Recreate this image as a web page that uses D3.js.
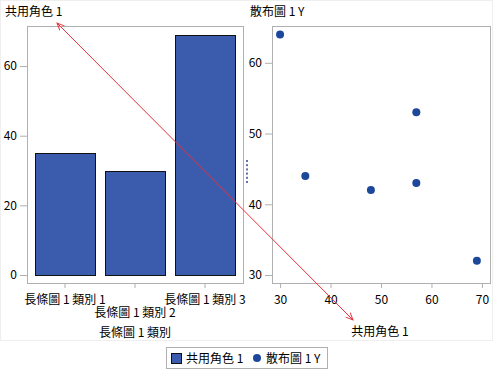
<!DOCTYPE html>
<html>
<head>
<meta charset="utf-8">
<script src="https://cdn.jsdelivr.net/npm/d3@7"></script>
<style>
  body { margin: 0; background: #fff; }
  text { font-family: "Noto Sans CJK TC", "DejaVu Sans", sans-serif; font-size: 12px; fill: #000; }
</style>
</head>
<body>
<div id="chart"></div>
<script>
// bar panel data
const barCategories = ["長條圖 1 類別 1", "長條圖 1 類別 2", "長條圖 1 類別 3"];
const barValues = [35, 30, 69];
const barTicks = [0, 20, 40, 60];

// scatter panel data
const scatterX = [30, 35, 48, 57, 57, 69];
const scatterY = [64, 44, 42, 53, 43, 32];
const scatterXTicks = [30, 40, 50, 60, 70];
const scatterYTicks = [30, 40, 50, 60];

const legendLabels = ["共用角色 1", "散布圖 1 Y"];

const barColor = "#3b5bad";
const dotColor = "#1c479b";
const frameColor = "#b0b0b0";

let svg = d3.select("#chart").append("svg")
    .attr("width", 497)
    .attr("height", 380);

svg.append("defs").append("marker")
    .attr("id", "arrow")
    .attr("viewBox", "0 0 10 10")
    .attr("refX", 9).attr("refY", 5)
    .attr("markerWidth", 8).attr("markerHeight", 8)
    .attr("orient", "auto-start-reverse")
    .append("path")
    .attr("d", "M0,1 L9,5 L0,9")
    .attr("fill", "none")
    .attr("stroke", "#e8303b")
    .attr("stroke-width", 1.2);

// faint outer border
svg.append("rect")
    .attr("x", 0.5).attr("y", 0.5)
    .attr("width", 492).attr("height", 340)
    .attr("fill", "none")
    .attr("stroke", "#efefef");

// ---------- left panel: bars ----------
let left = { x0: 27, x1: 243, y0: 26, y1: 283 };

let xBand = d3.scaleBand()
    .domain(barCategories)
    .range([30, 240])
    .paddingInner(0.15)
    .paddingOuter(0.075);

let yBar = d3.scaleLinear()
    .domain([-2.3, 71.5])
    .range([left.y1, left.y0]);

svg.append("rect")
    .attr("x", left.x0 + 0.5).attr("y", left.y0 + 0.5)
    .attr("width", left.x1 - left.x0).attr("height", left.y1 - left.y0)
    .attr("fill", "none").attr("stroke", frameColor);

svg.selectAll(".bar")
    .data(barValues)
    .enter().append("rect")
    .attr("class", "bar")
    .attr("x", (d, i) => Math.round(xBand(barCategories[i])) + 0.5)
    .attr("y", d => Math.round(yBar(d)) + 0.5)
    .attr("width", Math.round(xBand.bandwidth()))
    .attr("height", d => Math.round(yBar(0)) - Math.round(yBar(d)))
    .attr("fill", barColor)
    .attr("stroke", "#111");

let yAxisL = svg.append("g")
    .attr("transform", "translate(" + left.x0 + ",0)")
    .call(d3.axisLeft(yBar).tickValues(barTicks).tickSize(7).tickPadding(3));
yAxisL.select(".domain").remove();

let xAxisL = svg.append("g")
    .attr("transform", "translate(0," + left.y1 + ")")
    .call(d3.axisBottom(xBand).tickSize(5).tickPadding(6));
xAxisL.select(".domain").remove();
// staggered labels, middle one drops a row
xAxisL.selectAll(".tick text")
    .attr("dy", (d, i) => i == 1 ? "1.95em" : "0.85em");

svg.append("text")
    .attr("x", 135).attr("y", 337)
    .attr("text-anchor", "middle")
    .text("長條圖 1 類別");

svg.append("text")
    .attr("x", 5).attr("y", 16)
    .text("共用角色 1");

// ---------- right panel: scatter ----------
let right = { x0: 272, x1: 490, y0: 26, y1: 283 };

let xLin = d3.scaleLinear()
    .domain([28.4, 71.6])
    .range([right.x0, right.x1]);

let yLin = d3.scaleLinear()
    .domain([28.87, 65.2])
    .range([right.y1, right.y0]);

svg.append("rect")
    .attr("x", right.x0 + 0.5).attr("y", right.y0 + 0.5)
    .attr("width", right.x1 - right.x0).attr("height", right.y1 - right.y0)
    .attr("fill", "none").attr("stroke", frameColor);

svg.selectAll(".dot")
    .data(scatterX)
    .enter().append("circle")
    .attr("class", "dot")
    .attr("cx", d => xLin(d))
    .attr("cy", (d, i) => yLin(scatterY[i]))
    .attr("r", 4)
    .attr("fill", dotColor);

let yAxisR = svg.append("g")
    .attr("transform", "translate(" + right.x0 + ",0)")
    .call(d3.axisLeft(yLin).tickValues(scatterYTicks).tickSize(7).tickPadding(3));
yAxisR.select(".domain").remove();

let xAxisR = svg.append("g")
    .attr("transform", "translate(0," + right.y1 + ")")
    .call(d3.axisBottom(xLin).tickValues(scatterXTicks).tickSize(5).tickPadding(6));
xAxisR.select(".domain").remove();
xAxisR.selectAll(".tick text").attr("dy", "0.85em");

svg.append("text")
    .attr("x", 380).attr("y", 336)
    .attr("text-anchor", "middle")
    .text("共用角色 1");

svg.append("text")
    .attr("x", 250).attr("y", 16)
    .text("散布圖 1 Y");

// axis styling
svg.selectAll(".tick line").attr("stroke", frameColor);
svg.selectAll(".tick text").style("font-family", "\"Noto Sans CJK TC\", \"DejaVu Sans\", sans-serif").style("font-size", "12px").attr("fill", "#000");

// splitter handle dots
d3.range(6).forEach(function(i) {
    svg.append("rect")
        .attr("x", 246).attr("y", 160 + i * 4.2)
        .attr("width", 2).attr("height", 2)
        .attr("fill", "#5b76a8");
});

// red double arrow
svg.append("line")
    .attr("x1", 57).attr("y1", 23)
    .attr("x2", 353).attr("y2", 320)
    .attr("stroke", "#e8303b")
    .attr("stroke-width", 1)
    .attr("marker-start", "url(#arrow)")
    .attr("marker-end", "url(#arrow)");

// ---------- legend ----------
let legend = svg.append("g");
legend.append("rect")
    .attr("x", 166.5).attr("y", 347.5)
    .attr("width", 161).attr("height", 21)
    .attr("fill", "#fff").attr("stroke", frameColor);
legend.append("rect")
    .attr("x", 171.5).attr("y", 353.5)
    .attr("width", 10).attr("height", 10)
    .attr("fill", barColor).attr("stroke", "#111");
legend.append("text")
    .attr("x", 186).attr("y", 363)
    .text(legendLabels[0]);
legend.append("circle")
    .attr("cx", 257).attr("cy", 358)
    .attr("r", 4)
    .attr("fill", dotColor);
legend.append("text")
    .attr("x", 266).attr("y", 363)
    .text(legendLabels[1]);
</script>
</body>
</html>
